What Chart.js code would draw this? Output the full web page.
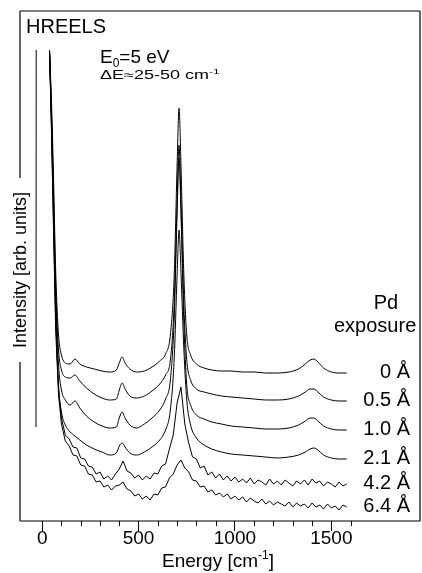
<!DOCTYPE html>
<html>
<head>
<meta charset="utf-8">
<script src="https://cdn.jsdelivr.net/npm/chart.js@4.4.0/dist/chart.umd.min.js"></script>
<style>
  html, body { margin: 0; padding: 0; background: #fff; }
  #wrap { width: 422px; height: 573px; }
</style>
</head>
<body>
<div id="wrap"><canvas id="hreels"></canvas></div>
<script>
// Energy loss grid (cm^-1) for the smooth spectra
const energies = [-32, -31, 20, 38, 48, 58, 70, 85, 100, 120, 145, 170, 195, 230, 270, 310, 350, 385,
  400, 415, 430, 455, 490, 530, 570, 610, 640, 665, 685, 700, 710, 720, 735, 750, 770, 800, 840, 880,
  930, 980, 1040, 1100, 1160, 1220, 1280, 1330, 1365, 1390, 1410, 1430, 1460, 1500, 1540, 1580];

// finer grid for the two noisy spectra
const energiesFine = [38, 48, 58, 70, 85,
  100, 120, 140, 160, 180, 200, 220, 240, 260, 280, 300, 320, 340, 360, 380,
  400, 420, 440, 460, 480, 500, 520, 540, 560, 580, 600, 620, 640, 660, 680,
  700, 720, 740, 760, 780, 800, 820, 840, 860, 880, 900, 920, 940, 960, 980,
  1000, 1020, 1040, 1060, 1080, 1100, 1120, 1140, 1160, 1180, 1200, 1220, 1240, 1260, 1280,
  1300, 1320, 1340, 1360, 1380, 1400, 1420, 1440, 1460, 1480, 1500, 1520, 1540, 1560, 1580];

// Pd exposure labels
const exposures = ['0 Å', '0.5 Å', '1.0 Å', '2.1 Å', '4.2 Å', '6.4 Å'];

// Intensities (arb. units, already offset)
const int00 = [94, 471, null, 471, 421, 351, 251, 186, 166, 158, 157, 162, 157, 154, 152, 150, 149, 151,
  158, 164, 158, 152, 149, 150, 154, 160, 167, 186, 246, 356, 413, 356, 246, 186, 166, 157, 153, 151,
  150, 150, 149, 149, 148, 148, 149, 152, 157, 161, 162, 159, 153, 149, 148, 148];
const int05 = [null, null, null, 471, 411, 336, 236, 171, 151, 144, 143, 146, 140, 133, 127, 123, 121, 122,
  131, 138, 132, 125, 123, 125, 130, 137, 146, 161, 218, 318, 376, 318, 216, 161, 141, 132, 129, 127,
  125, 124, 123, 122, 121, 121, 122, 125, 129, 132, 132, 129, 124, 121, 120, 120];
const int10 = [null, null, null, 471, 406, 326, 226, 156, 131, 121, 116, 120, 113, 105, 99, 95, 93, 94,
  103, 109, 103, 96, 93, 97, 103, 111, 122, 141, 203, 308, 363, 308, 199, 136, 116, 106, 102, 99,
  97, 95, 94, 93, 92, 92, 93, 96, 100, 103, 103, 100, 95, 92, 91, 91];
const int21 = [null, null, null, 471, 401, 316, 211, 136, 109, 96, 89, 85, 81, 76, 72, 69, 66, 68,
  75, 78, 74, 68, 66, 69, 74, 81, 91, 111, 163, 246, 291, 249, 172, 121, 96, 83, 76, 72,
  69, 67, 66, 65, 64, 63, 64, 66, 69, 72, 73, 71, 66, 63, 62, 62];
const int42 = [471, 396, 306, 201, 131,
  103, 86, 82, 74, 73, 63, 62, 55, 54, 47, 49, 42, 45, 41, 47,
  52, 60, 50, 48, 43, 46, 41, 45, 42, 48, 47, 55, 57, 72, 86,
  118, 134, 97, 78, 64, 62, 53, 55, 46, 49, 43, 47, 41, 45, 40,
  44, 39, 42, 38, 43, 37, 41, 39, 36, 42, 37, 40, 36, 41, 38,
  35, 40, 37, 41, 36, 42, 38, 40, 35, 39, 37, 34, 39, 35, 37];
const int64 = [471, 393, 299, 191, 126,
  97, 80, 75, 66, 65, 56, 55, 47, 46, 39, 40, 34, 36, 31, 35,
  36, 39, 32, 30, 25, 27, 22, 25, 21, 27, 26, 33, 34, 43, 47,
  56, 61, 53, 49, 41, 40, 34, 35, 29, 31, 26, 28, 24, 27, 22,
  25, 21, 24, 19, 23, 20, 18, 22, 17, 20, 16, 19, 17, 15, 19,
  14, 18, 15, 17, 13, 18, 14, 16, 12, 17, 13, 15, 11, 16, 14];

const spectra = [
  { e: energies, v: int00, noisy: false },
  { e: energies, v: int05, noisy: false },
  { e: energies, v: int10, noisy: false },
  { e: energies, v: int21, noisy: false },
  { e: energiesFine, v: int42, noisy: true },
  { e: energiesFine, v: int64, noisy: true }
];

// Axis ticks
const majorTicks = [0, 500, 1000, 1500];
const minorTicks = [100, 200, 300, 400, 600, 700, 800, 900, 1100, 1200, 1300, 1400, 1600];

const FONT = '"Liberation Sans", Arial, sans-serif';
Chart.defaults.font.family = FONT;
Chart.defaults.color = '#000';

// Frame, minor ticks and all free text
const decorPlugin = {
  id: 'decor',
  afterDraw(chart) {
    const ctx = chart.ctx;
    const a = chart.chartArea;
    const xs = chart.scales.x;
    ctx.save();
    ctx.strokeStyle = '#000';
    ctx.lineWidth = 1.2;
    ctx.beginPath();
    ctx.moveTo(a.left, a.top); ctx.lineTo(a.right, a.top);
    ctx.moveTo(a.right, a.top); ctx.lineTo(a.right, a.bottom);
    ctx.moveTo(a.left, a.bottom); ctx.lineTo(a.right, a.bottom);
    ctx.moveTo(a.left, a.top); ctx.lineTo(a.left, 178);
    ctx.moveTo(a.left, 362); ctx.lineTo(a.left, a.bottom);
    ctx.stroke();

    // minor ticks
    ctx.lineWidth = 1;
    ctx.beginPath();
    minorTicks.forEach(v => {
      const px = Math.round(xs.getPixelForValue(v)) + 0.5;
      ctx.moveTo(px, a.bottom); ctx.lineTo(px, a.bottom + 5);
    });
    ctx.stroke();

    ctx.fillStyle = '#000';
    ctx.textBaseline = 'alphabetic';
    ctx.textAlign = 'left';

    ctx.font = '20px ' + FONT;
    ctx.fillText('HREELS', 26, 33);

    // E0 = 5 eV
    ctx.font = '19px ' + FONT;
    ctx.fillText('E', 100, 63);
    let w = ctx.measureText('E').width;
    ctx.font = '12px ' + FONT;
    ctx.fillText('0', 100 + w, 67);
    w += ctx.measureText('0').width;
    ctx.font = '19px ' + FONT;
    ctx.fillText('=5 eV', 100 + w, 63);

    // resolution line, wide face
    ctx.save();
    ctx.translate(100, 79);
    ctx.scale(1.5, 1);
    ctx.font = '12px ' + FONT;
    ctx.fillText('\u0394E\u224825-50 cm', 0, 0);
    w = ctx.measureText('\u0394E\u224825-50 cm').width;
    ctx.font = '8px ' + FONT;
    ctx.fillText('-1', w, -5);
    ctx.restore();

    // y title
    ctx.save();
    ctx.translate(21, 270);
    ctx.rotate(-Math.PI / 2);
    ctx.textAlign = 'center';
    ctx.textBaseline = 'middle';
    ctx.font = '18px ' + FONT;
    ctx.fillText('Intensity [arb. units]', 0, 0);
    ctx.restore();

    // x title with superscript
    ctx.font = '19px ' + FONT;
    const t1 = 'Energy [cm', t3 = ']';
    const w1 = ctx.measureText(t1).width, w3 = ctx.measureText(t3).width;
    ctx.font = '12px ' + FONT;
    const w2 = ctx.measureText('-1').width;
    let x0 = 218 - (w1 + w2 + w3) / 2;
    ctx.font = '19px ' + FONT;
    ctx.fillText(t1, x0, 567);
    ctx.font = '12px ' + FONT;
    ctx.fillText('-1', x0 + w1, 559);
    ctx.font = '19px ' + FONT;
    ctx.fillText(t3, x0 + w1 + w2, 567);

    // legend text on the right
    ctx.font = '20px ' + FONT;
    ctx.textAlign = 'center';
    ctx.fillText('Pd', 386, 309);
    ctx.textAlign = 'left';
    ctx.fillText('exposure', 334, 332);
    ctx.textAlign = 'right';
    ctx.textBaseline = 'middle';
    chart.data.datasets.forEach((ds, i) => {
      const pts = chart.getDatasetMeta(i).data;
      const last = pts[pts.length - 1];
      ctx.fillText(ds.label, 410, last.y - 1);
    });
    ctx.restore();
  }
};

new Chart(document.getElementById('hreels'), {
  type: 'line',
  data: {
    datasets: spectra.map((s, i) => ({
      label: exposures[i],
      data: s.e.map((e, k) => ({ x: e, y: s.v[k] })),
      borderColor: '#000',
      borderWidth: 1,
      pointRadius: 0,
      tension: 0,
      cubicInterpolationMode: s.noisy ? 'default' : 'monotone',
      spanGaps: false
    }))
  },
  options: {
    responsive: true,
    maintainAspectRatio: false,
    animation: false,
    layout: { padding: { left: 20, right: 2, top: 11, bottom: 0 } },
    plugins: { legend: { display: false }, tooltip: { enabled: false } },
    scales: {
      x: {
        type: 'linear',
        min: -115,
        max: 1960,
        afterBuildTicks(scale) { scale.ticks = majorTicks.map(v => ({ value: v })); },
        afterFit(scale) { scale.height = 52; },
        border: { display: false },
        grid: { drawOnChartArea: false, drawTicks: true, tickLength: 10, tickColor: '#000', tickWidth: 1 },
        ticks: { font: { size: 19 }, color: '#000', padding: -4, maxRotation: 0, callback: v => String(v) }
      },
      y: { display: false, min: 0, max: 510 }
    }
  },
  plugins: [decorPlugin]
});
</script>
</body>
</html>
